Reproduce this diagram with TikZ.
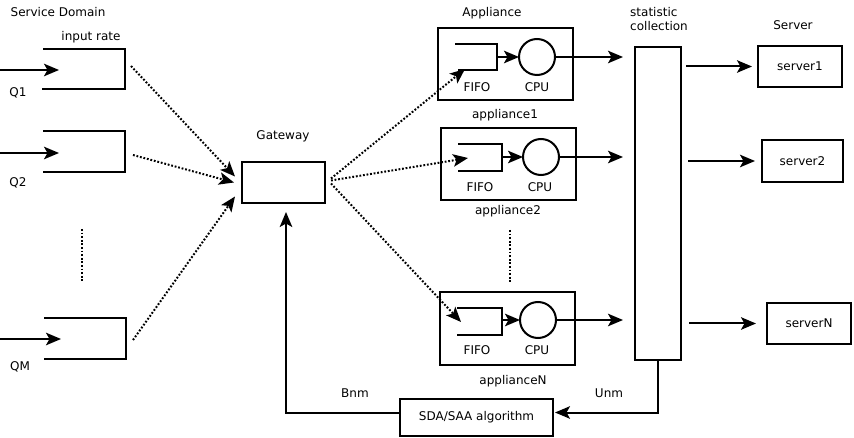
\documentclass[tikz,border=0pt]{standalone}
\usepackage{fontspec}
\setmainfont{DejaVu Sans}
\usetikzlibrary{arrows.meta}

\begin{document}
\begin{tikzpicture}[x=1pt,y=-1pt,line width=2pt,
	every node/.style={font=\fontsize{12}{14.5}\selectfont},
	box/.style={draw,rectangle,inner sep=0,outer sep=0},
	cpu/.style={draw,circle,inner sep=0,outer sep=0,minimum size=36},
	arr/.style={-{Stealth[length=15pt,width=12.5pt,inset=3.5pt]}},
	dots/.style={dash pattern=on 1.8pt off 1.8pt}]
	\useasboundingbox (0,0) rectangle (854,438);
	% service domain queues
	\node (sd) at (58,12) {Service Domain};
	\node (rate) at (91,37) {input rate};
	\draw (43,49) -- (125,49) -- (125,89) -- (42,89);
	\draw (43,131) -- (125,131) -- (125,172) -- (43,172);
	\draw (44,318) -- (126,318) -- (126,359) -- (44,359);
	\coordinate (in1) at (0,70);
	\coordinate (in2) at (0,153);
	\coordinate (inM) at (0,339);
	\coordinate (q1in) at (59,70);
	\coordinate (q2in) at (59,153);
	\coordinate (qMin) at (61,339);
	\coordinate (q1) at (131,66);
	\coordinate (q2) at (133,155);
	\coordinate (qM) at (133,340);
	\draw[arr] (in1) -- (q1in);
	\draw[arr] (in2) -- (q2in);
	\draw[arr] (inM) -- (qMin);
	\node (lq1) at (18,93) {Q1};
	\node (lq2) at (18,183) {Q2};
	\node (lqM) at (20,367) {QM};
	\draw[dots] (82,229) -- (82,281);
	% gateway
	\node[box,minimum width=83,minimum height=41] (gw) at (283.5,182.5) {};
	\node (lgw) at (283,136) {Gateway};
	\draw[dots,arr] (q1) -- ([shift={(-7,-6)}]gw.west);
	\draw[dots,arr] (q2) -- ([shift={(-8,0)}]gw.west);
	\draw[dots,arr] (qM) -- ([shift={(-7,14)}]gw.west);
	% appliances
	\node (lapp) at (492,13) {Appliance};
	\node[box,minimum width=135,minimum height=72] (app1) at (505.5,64) {};
	\node[box,minimum width=135,minimum height=72] (app2) at (508.5,164) {};
	\node[box,minimum width=135,minimum height=73] (appN) at (507.5,328.5) {};
	\node[cpu] (cpu1) at (537,57) {};
	\node[cpu] (cpu2) at (541,157) {};
	\node[cpu] (cpuN) at (538,320) {};
	\draw (455,44) -- (497,44) -- (497,70) -- (458,70);
	\draw (458,144) -- (502,144) -- (502,171) -- (458,171);
	\draw (457,308) -- (502,308) -- (502,335) -- (457,335);
	\coordinate (f1) at (497,57);
	\coordinate (f2) at (502,157);
	\coordinate (fN) at (502,320);
	\coordinate (f1in) at (465,69);
	\coordinate (f2in) at (468,158);
	\coordinate (fNin) at (461,322);
	\draw[arr] (f1) -- (cpu1);
	\draw[arr] (f2) -- (cpu2);
	\draw[arr] (fN) -- (cpuN);
	\draw[dots,arr] ([shift={(6,-4)}]gw.east) -- (f1in);
	\draw[dots,arr] ([shift={(6,-2)}]gw.east) -- (f2in);
	\draw[dots,arr] ([shift={(6,1)}]gw.east) -- (fNin);
	\node (lf1) at (477,87) {FIFO};
	\node (lc1) at (537,87) {CPU};
	\node (lf2) at (480,187) {FIFO};
	\node (lc2) at (540,187) {CPU};
	\node (lfN) at (477,350) {FIFO};
	\node (lcN) at (537,350) {CPU};
	\node (la1) at (505,115) {appliance1};
	\node (la2) at (508,211) {appliance2};
	\node (laN) at (513,381) {applianceN};
	\draw[dots] (510,230) -- (510,282);
	% statistic collection
	\node[box,minimum width=46,minimum height=313] (stat) at (658,203.5) {};
	\node[align=left,inner sep=0] (lstat) at (659,19) {statistic\\collection};
	\draw[arr,shorten >=12pt] (cpu1) -- (cpu1 -| stat.west);
	\draw[arr,shorten >=12pt] (cpu2) -- (cpu2 -| stat.west);
	\draw[arr,shorten >=12pt] (cpuN) -- (cpuN -| stat.west);
	% servers
	\node (lsrv) at (793,25) {Server};
	\node[box,minimum width=84,minimum height=41] (srv1) at (800,66.5) {server1};
	\node[box,minimum width=81,minimum height=42] (srv2) at (802.5,161) {server2};
	\node[box,minimum width=84,minimum height=41] (srvN) at (809,323.5) {serverN};
	\draw[arr,shorten <=5pt,shorten >=6pt] (stat.east |- srv1) -- (srv1.west);
	\draw[arr,shorten <=7pt,shorten >=7pt] (stat.east |- srv2) -- (srv2.west);
	\draw[arr,shorten <=8pt,shorten >=11pt] (stat.east |- srvN) -- (srvN.west);
	% feedback loop
	\node[box,minimum width=153,minimum height=37] (algo) at (476.5,417.5) {SDA/SAA algorithm};
	\draw[arr,shorten >=2pt] (stat.south) |- ([yshift=5pt]algo.east);
	\draw[arr,shorten >=9pt] ([yshift=5pt]algo.west) -| ([xshift=2.5pt]gw.south);
	\node (lu) at (609,393) {Unm};
	\node (lb) at (355,393) {Bnm};
\end{tikzpicture}
\end{document}
